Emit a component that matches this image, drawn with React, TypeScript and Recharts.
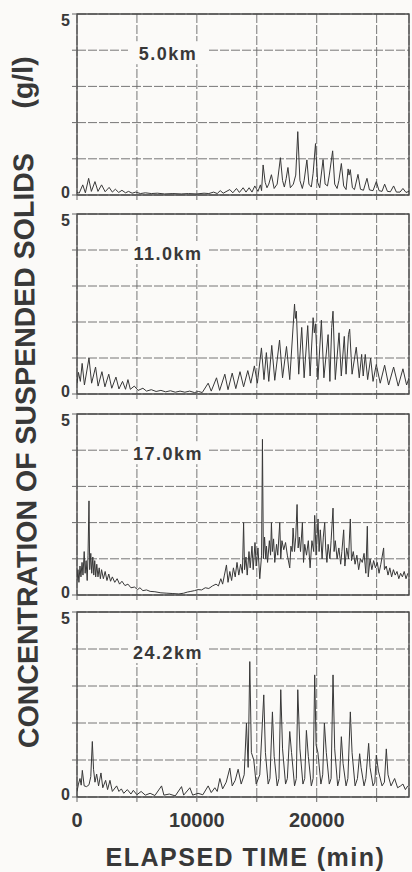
import React from 'react';
import { LineChart, Line, XAxis, YAxis, CartesianGrid, ReferenceArea } from 'recharts';

const FONT = "'Liberation Sans', Arial, Helvetica, sans-serif";
const INK = '#383838';
const PAPER = '#fbfaf8';

const stationLabels = ['5.0km', '11.0km', '17.0km', '24.2km'];
const timeTicks = [0, 5000, 10000, 15000, 20000, 25000];
const timeLabels = [0, 10000, 20000];
const concTicks = [0, 1, 2, 3, 4, 5];
const concLabels = [0, 5];
const TIME_MAX = 27700;

// [elapsed time (min), suspended solids (g/l)]
const ss5km: [number, number][] = [
  [0, 0.08], [180, 0.05], [480, 0.28], [700, 0.06], [970, 0.46], [1200, 0.1], [1500, 0.37], [1750, 0.1],
  [2050, 0.28], [2350, 0.09], [2680, 0.21], [2950, 0.08], [3200, 0.16], [3480, 0.07], [3750, 0.13], [4050, 0.06],
  [4300, 0.1], [4600, 0.05], [4900, 0.08], [5300, 0.04], [5700, 0.06], [6200, 0.04], [6700, 0.05], [7300, 0.03],
  [8000, 0.04], [8700, 0.03], [9300, 0.04], [10000, 0.03], [10600, 0.05], [11000, 0.04], [11400, 0.08], [11700, 0.04],
  [11950, 0.12], [12200, 0.05], [12750, 0.15], [13000, 0.06], [13306, 0.18], [13550, 0.07], [13861, 0.2], [14100, 0.08],
  [14361, 0.2], [14600, 0.08], [14833, 0.25], [15100, 0.1], [15300, 0.28], [15400, 0.12], [15528, 0.83], [15700, 0.35],
  [15850, 0.2], [16000, 0.3], [16222, 0.56], [16450, 0.18], [16700, 0.3], [16972, 1.03], [17150, 0.4], [17300, 0.22],
  [17450, 0.45], [17600, 0.76], [17800, 0.2], [18050, 0.3], [18250, 0.55], [18420, 1.75], [18600, 0.4], [18800, 0.18],
  [18950, 0.4], [19180, 0.97], [19350, 0.3], [19550, 0.22], [19700, 0.6], [19900, 1.42], [20080, 0.35], [20250, 0.2],
  [20530, 0.98], [20700, 0.3], [20900, 0.25], [21050, 0.55], [21330, 1.22], [21500, 0.3], [21700, 0.18], [21850, 0.4],
  [22056, 0.87], [22250, 0.25], [22450, 0.15], [22620, 0.72], [22700, 0.55], [22800, 0.7], [22980, 0.2], [23150, 0.15],
  [23444, 0.57], [23650, 0.16], [23900, 0.13], [24194, 0.46], [24400, 0.14], [24700, 0.12], [24972, 0.37], [25200, 0.12],
  [25450, 0.1], [25667, 0.3], [25900, 0.1], [26150, 0.09], [26417, 0.25], [26650, 0.08], [26950, 0.08], [27194, 0.18],
  [27450, 0.07], [27700, 0.1],
];

const ss11km: [number, number][] = [
  [0, 0.3], [120, 0.6], [280, 0.35], [430, 0.85], [620, 0.25], [1000, 1.0], [1220, 0.3], [1550, 0.75],
  [1760, 0.22], [2080, 0.62], [2330, 0.2], [2650, 0.55], [2900, 0.16], [3250, 0.47], [3500, 0.14], [3800, 0.35],
  [4050, 0.13], [4250, 0.4], [4450, 0.13], [4780, 0.22], [5100, 0.1], [5500, 0.16], [5800, 0.08], [6200, 0.12],
  [6600, 0.07], [7000, 0.1], [7400, 0.06], [7800, 0.09], [8200, 0.05], [8600, 0.08], [9000, 0.05], [9400, 0.08],
  [9800, 0.04], [10150, 0.07], [10450, 0.04], [10944, 0.3], [11200, 0.08], [11639, 0.45], [11900, 0.1], [12333, 0.55],
  [12600, 0.12], [12950, 0.58], [13250, 0.15], [13600, 0.62], [13900, 0.2], [14250, 0.65], [14500, 0.3], [14800, 0.78],
  [15050, 0.3], [15389, 1.28], [15600, 0.4], [15800, 1.15], [16000, 0.35], [16250, 1.35], [16500, 0.38], [16900, 1.5],
  [17150, 0.45], [17480, 1.32], [17750, 0.4], [18150, 2.5], [18220, 2.1], [18300, 2.3], [18500, 0.55], [18750, 1.85],
  [18950, 0.45], [19250, 1.9], [19450, 0.5], [19700, 2.12], [19800, 1.7], [19900, 1.95], [20100, 0.4], [20390, 2.05],
  [20600, 0.45], [20950, 1.65], [21100, 0.35], [21250, 1.85], [21360, 2.3], [21550, 0.4], [21861, 1.7], [22050, 0.5],
  [22300, 1.6], [22450, 0.55], [22650, 1.65], [22750, 1.8], [22950, 0.55], [23300, 1.3], [23550, 0.45], [23750, 1.1],
  [23880, 0.5], [24050, 1.1], [24250, 0.4], [24500, 1.0], [24700, 0.35], [24972, 0.82], [25300, 0.3], [25667, 0.8],
  [26000, 0.25], [26417, 0.75], [26800, 0.22], [27194, 0.7], [27500, 0.25], [27700, 0.45],
];

const ss17km: [number, number][] = [
  [0, 0.4], [80, 0.7], [160, 0.35], [250, 0.8], [330, 0.5], [420, 0.9], [500, 0.55], [600, 1.2],
  [680, 0.6], [760, 0.95], [850, 0.4], [920, 1.1], [1000, 2.6], [1060, 0.7], [1150, 1.15], [1230, 0.6],
  [1320, 1.05], [1400, 0.55], [1480, 0.95], [1560, 0.5], [1650, 0.85], [1750, 0.5], [1850, 0.75], [1950, 0.45],
  [2050, 0.7], [2200, 0.45], [2350, 0.65], [2500, 0.4], [2650, 0.58], [2800, 0.38], [2950, 0.5], [3150, 0.35],
  [3350, 0.45], [3550, 0.3], [3750, 0.38], [4000, 0.26], [4250, 0.3], [4500, 0.2], [4800, 0.22], [5050, 0.15],
  [5250, 0.2], [5500, 0.12], [5800, 0.14], [6100, 0.1], [6500, 0.09], [7000, 0.06], [7500, 0.05], [8000, 0.04],
  [8500, 0.03], [8900, 0.05], [9200, 0.08], [9500, 0.1], [9800, 0.12], [10100, 0.15], [10400, 0.14], [10700, 0.2],
  [11000, 0.18], [11300, 0.25], [11600, 0.3], [11800, 0.25], [12000, 0.45], [12150, 0.3], [12300, 0.55], [12470, 0.83],
  [12600, 0.35], [12750, 0.65], [12900, 0.4], [13050, 0.75], [13200, 0.5], [13350, 0.9], [13500, 0.55], [13650, 0.85],
  [13800, 0.6], [13900, 2.0], [13980, 0.7], [14100, 1.05], [14200, 0.55], [14350, 1.2], [14450, 0.75], [14600, 1.35],
  [14700, 0.7], [14850, 1.45], [14950, 0.8], [15100, 1.3], [15250, 0.45], [15400, 1.1], [15472, 4.3], [15550, 1.0],
  [15650, 1.6], [15750, 1.0], [15806, 1.35], [15900, 0.9], [16050, 1.5], [16150, 1.1], [16222, 2.0], [16300, 1.2],
  [16400, 1.55], [16500, 0.9], [16650, 1.4], [16750, 1.1], [16917, 2.0], [17000, 1.0], [17100, 1.5], [17250, 1.25],
  [17400, 1.45], [17550, 1.1], [17750, 0.75], [17850, 1.35], [17950, 1.2], [18028, 1.85], [18150, 1.2], [18250, 1.6],
  [18361, 2.5], [18450, 1.3], [18550, 1.6], [18650, 1.2], [18806, 2.0], [18900, 0.9], [19000, 1.4], [19150, 1.1],
  [19300, 1.5], [19450, 0.75], [19600, 1.5], [19750, 1.2], [19833, 2.2], [19950, 1.1], [20111, 2.1], [20200, 1.2],
  [20300, 1.8], [20450, 1.0], [20550, 1.6], [20667, 2.0], [20750, 1.3], [20850, 0.9], [20950, 1.4], [21100, 1.0],
  [21200, 1.5], [21361, 2.4], [21450, 1.2], [21550, 1.5], [21700, 1.0], [21850, 1.3], [22000, 0.85], [22100, 1.2],
  [22250, 1.8], [22350, 0.8], [22500, 1.3], [22650, 1.0], [22806, 2.1], [22900, 0.95], [23050, 1.2], [23200, 0.85],
  [23350, 1.1], [23500, 0.7], [23650, 1.0], [23800, 0.9], [23950, 1.15], [24100, 0.6], [24222, 1.9], [24300, 0.5],
  [24450, 1.0], [24600, 0.7], [24750, 0.95], [24900, 0.75], [25050, 0.9], [25200, 0.6], [25350, 0.85], [25583, 1.3],
  [25650, 0.7], [25800, 0.8], [25950, 0.55], [26100, 0.75], [26250, 0.5], [26400, 0.7], [26550, 0.55], [26700, 0.65],
  [26850, 0.45], [27000, 0.6], [27150, 0.5], [27300, 0.65], [27450, 0.45], [27600, 0.6],
];

const ss24km: [number, number][] = [
  [0, 0.15], [120, 0.35], [250, 0.5], [350, 0.32], [444, 0.72], [600, 0.3], [800, 0.28], [1000, 0.33],
  [1150, 0.55], [1278, 1.5], [1380, 0.75], [1500, 0.4], [1639, 0.62], [1800, 0.3], [2000, 0.65], [2150, 0.25],
  [2389, 0.45], [2550, 0.2], [2750, 0.45], [2950, 0.15], [3306, 0.3], [3500, 0.15], [3700, 0.22], [3900, 0.1],
  [4200, 0.2], [4500, 0.08], [4700, 0.18], [5000, 0.06], [5350, 0.15], [5700, 0.05], [6100, 0.1], [6500, 0.04],
  [7056, 0.3], [7250, 0.05], [7700, 0.08], [8200, 0.03], [8722, 0.28], [8900, 0.05], [9417, 0.25], [9650, 0.05],
  [10100, 0.1], [10500, 0.06], [10944, 0.3], [11200, 0.12], [11500, 0.25], [11700, 0.15], [11917, 0.5], [12150, 0.22],
  [12450, 0.4], [12750, 0.78], [12950, 0.3], [13200, 0.45], [13444, 0.75], [13700, 0.35], [13950, 0.6], [14139, 2.0],
  [14280, 0.8], [14417, 3.66], [14550, 1.2], [14750, 1.0], [14950, 0.35], [15250, 0.6], [15583, 2.76], [15720, 1.2],
  [15950, 0.35], [16100, 0.5], [16306, 2.3], [16450, 1.1], [16700, 0.3], [16850, 0.5], [17000, 2.9], [17150, 1.3],
  [17400, 0.35], [17550, 0.5], [17750, 1.77], [17900, 1.2], [18150, 0.3], [18300, 0.5], [18420, 2.9], [18600, 1.3],
  [18850, 0.35], [19000, 0.5], [19139, 1.8], [19300, 1.1], [19550, 0.3], [19700, 0.5], [19833, 3.3], [19950, 1.4],
  [20100, 1.2], [20350, 0.35], [20500, 0.6], [20640, 2.0], [20800, 1.2], [21050, 0.35], [21200, 0.5], [21361, 3.3],
  [21500, 1.3], [21750, 0.3], [21900, 0.5], [22056, 1.63], [22200, 0.9], [22450, 0.3], [22600, 0.5], [22806, 2.3],
  [22950, 1.2], [23200, 0.3], [23400, 0.5], [23583, 1.17], [23700, 0.8], [23950, 0.3], [24100, 0.5], [24333, 1.45],
  [24450, 0.8], [24700, 0.3], [24850, 0.4], [24972, 1.13], [25150, 0.7], [25450, 0.3], [25650, 0.4], [25806, 1.3],
  [25950, 0.6], [26200, 0.3], [26500, 0.5], [26750, 0.25], [27000, 0.3], [27194, 0.35], [27400, 0.2], [27600, 0.3],
];

const panels = [
  { label: stationLabels[0], series: ss5km, top: 14, height: 181 },
  { label: stationLabels[1], series: ss11km, top: 214, height: 180 },
  { label: stationLabels[2], series: ss17km, top: 414, height: 181 },
  { label: stationLabels[3], series: ss24km, top: 612, height: 185 },
];

const YTick = (props: any) => {
  const { x, y, payload } = props;
  const v = payload.value;
  if (!concLabels.includes(v)) return <g />;
  // scan puts the "5" a little below the top edge and the "0" a little above the bottom
  const baseline = v === 5 ? y + 11.5 : y + 3.2;
  return (
    <text x={x} y={baseline} textAnchor="end" fontSize={16} fontWeight="bold" fontFamily={FONT} fill={INK}>
      {v}
    </text>
  );
};

const XTick = (props: any) => {
  const { x, y, payload } = props;
  if (!timeLabels.includes(payload.value)) return <g />;
  return (
    <text x={x} y={y + 24.5} textAnchor="middle" fontSize={20} fontWeight="bold" fontFamily={FONT} fill={INK}>
      {payload.value}
    </text>
  );
};

// top panels keep their tick marks and grid, only the numbers are dropped
const NoTick = () => <g />;

function Panel({ series, top, height, last }: { series: [number, number][]; top: number; height: number; last: boolean }) {
  const data = series.map(([t, c]) => ({ t, c }));
  const axisH = last ? 40 : 6;
  return (
    <div style={{ position: 'absolute', left: 0, top: top - 10 }}>
      <LineChart
        width={412}
        height={height + 10 + axisH + 2}
        data={data}
        margin={{ top: 10, right: 3, bottom: 2, left: 57 }}
      >
        <CartesianGrid stroke="#686868" strokeDasharray="9 2" strokeWidth={0.9} />
        <XAxis
          dataKey="t"
          type="number"
          domain={[0, TIME_MAX]}
          ticks={timeTicks}
          interval={0}
          allowDataOverflow
          height={axisH}
          tickSize={5}
          tickMargin={0}
          axisLine={false}
          tickLine={{ stroke: '#686868' }}
          tick={last ? XTick : NoTick}
        />
        <YAxis
          type="number"
          domain={[0, 5]}
          ticks={concTicks}
          interval={0}
          width={20}
          tickSize={5}
          tickMargin={2}
          axisLine={false}
          tickLine={{ stroke: '#686868' }}
          tick={YTick}
        />
        <ReferenceArea x1={0} x2={TIME_MAX} y1={0} y2={5} fill="none" stroke="#4a4a4a" strokeWidth={1.3} />
        <Line dataKey="c" type="linear" stroke={INK} strokeWidth={1} dot={false} isAnimationActive={false} />
      </LineChart>
    </div>
  );
}

export default function App() {
  return (
    <div style={{ position: 'absolute', left: 0, top: 0, width: 412, height: 872, background: PAPER, overflow: 'hidden' }}>
      {panels.map((p, i) => (
        <Panel key={p.label} series={p.series} top={p.top} height={p.height} last={i === panels.length - 1} />
      ))}
      <svg width={412} height={872} style={{ position: 'absolute', left: 0, top: 0, pointerEvents: 'none' }}>
        {panels.map((p) => {
          const gy = p.top + p.height / 5;
          return (
            <g key={p.label}>
              <rect x={128} y={gy - 9} width={79} height={23} fill={PAPER} />
              <text
                x={168}
                y={gy + 10}
                textAnchor="middle"
                fontSize={18}
                fontWeight="bold"
                letterSpacing={1.5}
                fontFamily={FONT}
                fill={INK}
              >
                {p.label}
              </text>
            </g>
          );
        })}
        <text
          transform="translate(35.8, 450.5) rotate(-90.5)"
          textAnchor="middle"
          fontSize={28.5}
          fontWeight="bold"
          fontFamily={FONT}
          fill={INK}
        >
          CONCENTRATION OF SUSPENDED SOLIDS
        </text>
        <text
          transform="translate(32.6, 82.5) rotate(-90.5)"
          textAnchor="middle"
          fontSize={28.5}
          fontWeight="bold"
          fontFamily={FONT}
          fill={INK}
        >
          (g/l)
        </text>
        <text x={245.5} y={866} textAnchor="middle" fontSize={25} fontWeight="bold" letterSpacing={1.5} fontFamily={FONT} fill={INK}>
          ELAPSED TIME (min)
        </text>
      </svg>
    </div>
  );
}
